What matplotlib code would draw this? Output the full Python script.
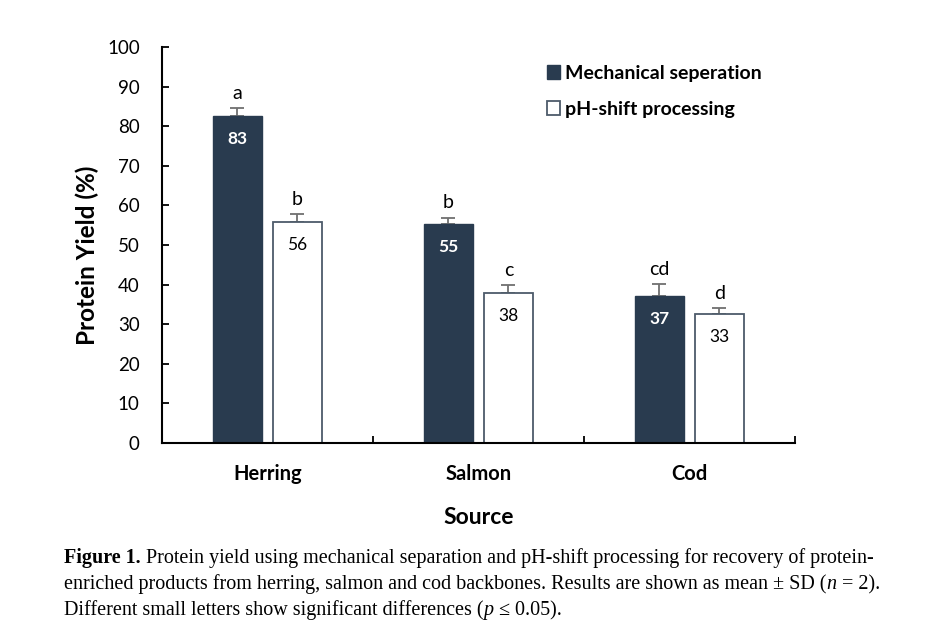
import numpy as np
import matplotlib.pyplot as plt
from matplotlib.patches import Patch

sources = ['Herring', 'Salmon', 'Cod']
mechanical = [82.6, 55.4, 37.1]
mechanical_sd = [2.0, 1.5, 3.0]
ph_shift = [55.8, 37.9, 32.6]
ph_shift_sd = [2.0, 2.0, 1.5]
mech_labels = ['83', '55', '37']
ph_labels = ['56', '38', '33']
mech_letters = ['a', 'b', 'cd']
ph_letters = ['b', 'c', 'd']

dark = '#293b4f'
edge = '#4d5b6a'
errc = '#707070'
font = 'Lato'

fig = plt.figure(figsize=(9.4, 6.32), dpi=100)
ax = fig.add_axes([0.1723, 0.299, 0.6734, 0.6267])

x = np.arange(len(sources)) + 0.5
w = 0.232
off = 0.142

ax.bar(x - off, mechanical, w, color=dark, edgecolor=dark, linewidth=1, zorder=2)
ax.bar(x + off, ph_shift, w, color='white', edgecolor=edge, linewidth=1.3, zorder=2)
ax.errorbar(x - off, mechanical, yerr=[np.zeros(3), mechanical_sd], fmt='none',
            ecolor=errc, elinewidth=1.3, capsize=5, capthick=1.3, zorder=1)
ax.errorbar(x + off, ph_shift, yerr=[np.zeros(3), ph_shift_sd], fmt='none',
            ecolor=errc, elinewidth=1.3, capsize=5, capthick=1.3, zorder=1)

for i in range(len(sources)):
    ax.text(x[i] - off, mechanical[i] - 5.8, mech_labels[i], ha='center', va='center',
            color='white', fontweight='bold', fontsize=12.5, family=font)
    ax.text(x[i] + off, ph_shift[i] - 5.8, ph_labels[i], ha='center', va='center',
            color='black', fontsize=12.5, family=font)
    ax.text(x[i] - off, mechanical[i] + mechanical_sd[i] + 1.6, mech_letters[i],
            ha='center', va='bottom', fontsize=14, family=font)
    ax.text(x[i] + off, ph_shift[i] + ph_shift_sd[i] + 1.6, ph_letters[i],
            ha='center', va='bottom', fontsize=14, family=font)

ax.set_xlim(0, 3)
ax.set_ylim(0, 100)
ax.set_yticks(np.arange(0, 101, 10))
ax.set_xticks(x)
ax.set_xticklabels(sources, fontweight='bold', fontsize=14.5, family=font)
ax.set_xticks([1, 2, 3], minor=True)
ax.tick_params(axis='x', which='major', length=0, pad=15)
ax.tick_params(axis='x', which='minor', direction='in', length=5, width=1.3)
ax.tick_params(axis='y', direction='in', length=5, width=1.3, labelsize=13.5, pad=16)
for lab in ax.get_yticklabels():
    lab.set_family(font)
for s in ['top', 'right']:
    ax.spines[s].set_visible(False)
for s in ['left', 'bottom']:
    ax.spines[s].set_linewidth(1.5)

ax.set_ylabel('Protein Yield (%)', fontweight='bold', fontsize=17.5, family=font)
ax.yaxis.set_label_coords(-0.099, 0.475)
ax.set_xlabel('Source', fontweight='bold', fontsize=16.5, family=font, labelpad=17)

handles = [Patch(facecolor=dark, edgecolor=dark), Patch(facecolor='white', edgecolor=edge, linewidth=1.3)]
leg = ax.legend(handles, ['Mechanical seperation', 'pH-shift processing'], loc='upper right',
                bbox_to_anchor=(0.966, 0.985), frameon=False, handlelength=0.7, handleheight=0.7,
                handletextpad=0.25, labelspacing=1.0, borderaxespad=0.2,
                prop={'family': font, 'weight': 'bold', 'size': 14})

# caption
serif = 'Liberation Serif'
fs = 14.5
fig.canvas.draw()
r = fig.canvas.get_renderer()


def runs(parts, x0, y0):
    xx = x0
    for txt, kw in parts:
        t = fig.text(xx, y0, txt, fontsize=fs, family=serif, va='baseline', **kw)
        bb = t.get_window_extent(renderer=r)
        xx += bb.width / fig.bbox.width


runs([('Figure 1.', {'fontweight': 'bold'}),
      (' Protein yield using mechanical separation and pH-shift processing for recovery of protein-', {})],
     0.068, 1 - 563 / 632)
runs([('enriched products from herring, salmon and cod backbones. Results are shown as mean \u00b1 SD (', {}),
      ('n', {'style': 'italic'}), (' = 2).', {})], 0.068, 1 - 589 / 632)
runs([('Different small letters show significant differences (', {}),
      ('p', {'style': 'italic'}), (' \u2264 0.05).', {})], 0.068, 1 - 615 / 632)

fig.savefig('out.png', dpi=100)
